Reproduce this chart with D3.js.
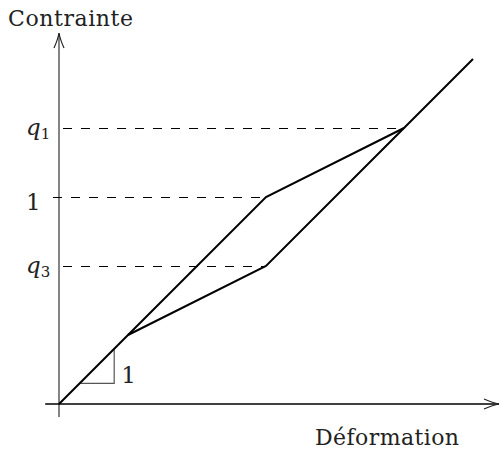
<!DOCTYPE html>
<html>
<head>
<meta charset="utf-8">
<script src="https://cdn.jsdelivr.net/npm/d3@7"></script>
<style>
  html, body { margin: 0; padding: 0; background: #fff; }
  svg { display: block; }
  text { font-family: "DejaVu Serif", serif; fill: #222; }
</style>
</head>
<body>
<svg id="chart" width="500" height="454"></svg>
<script>
// Stress–strain diagram: elastic loading, softened branch, unloading and reloading.
const loadingPath = [[0, 0], [1, 1], [3, 3], [5, 4]];
const reloadPath = [[1, 1], [3, 2], [5, 4], [6, 5]];
const levelValues = [4, 3, 2];
const levelEnds = [5, 3, 3];
const levelNames = [["q", "1"], ["1", null], ["q", "3"]];
const slopeTriangle = [[0.3, 0.3], [0.8, 0.3], [0.8, 0.8]];
const slopeLabel = "1";
const xTitle = "Déformation";
const yTitle = "Contrainte";

const svg = d3.select("#chart");
const x = d3.scaleLinear().domain([0, 6]).range([59, 473]);
const y = d3.scaleLinear().domain([0, 5]).range([404, 59]);
const line = d3.line().x(d => x(d[0])).y(d => y(d[1]));

// Axes with open arrow heads
svg.append("line")
  .attr("x1", x(0)).attr("x2", x(0))
  .attr("y1", y(-0.19)).attr("y2", 33)
  .attr("stroke", "#666").attr("stroke-width", 1.6);
svg.append("path")
  .attr("d", `M${x(0) - 5},${33 + 15} Q${x(0) - 1},${33 + 6} ${x(0)},33 Q${x(0) + 1},${33 + 6} ${x(0) + 5},${33 + 15}`)
  .attr("fill", "none").attr("stroke", "#222").attr("stroke-width", 1.2);

svg.append("line")
  .attr("x1", x(-0.2)).attr("x2", 499)
  .attr("y1", y(0)).attr("y2", y(0))
  .attr("stroke", "#000").attr("stroke-width", 1.4);
svg.append("path")
  .attr("d", `M${499 - 15},${y(0) - 5} Q${499 - 6},${y(0) - 1} 499,${y(0)} Q${499 - 6},${y(0) + 1} ${499 - 15},${y(0) + 5}`)
  .attr("fill", "none").attr("stroke", "#222").attr("stroke-width", 1.2);

// Dashed reference levels
svg.selectAll(".level")
  .data(levelValues)
  .join("line")
  .attr("class", "level")
  .attr("x1", (d, i) => levelNames[i][1] === null ? x(-0.09) : x(0.06))
  .attr("x2", (d, i) => x(levelEnds[i]))
  .attr("y1", d => y(d) + 0.5).attr("y2", d => y(d) + 0.5)
  .attr("stroke", "#000").attr("stroke-width", 1.5)
  .attr("shape-rendering", "crispEdges")
  .attr("stroke-dasharray", "9,9");

// Level labels
const labels = svg.selectAll(".lvl-label")
  .data(levelValues)
  .join("text")
  .attr("class", "lvl-label")
  .attr("x", 26)
  .attr("y", (d, i) => levelNames[i][1] === null ? y(d) + 13 : y(d) + 7)
  .attr("font-size", 23);
labels.each(function (d, i) {
  const t = d3.select(this);
  const [main, sub] = levelNames[i];
  if (sub === null) {
    t.append("tspan").text(main);
  } else {
    t.append("tspan").attr("font-style", "italic").text(main);
    t.append("tspan").attr("font-size", 15).attr("dy", 4).attr("dx", 0).text(sub);
  }
});

// Slope indicator
svg.append("path")
  .attr("d", line(slopeTriangle))
  .attr("fill", "none").attr("stroke", "#555").attr("stroke-width", 1.2);
svg.append("text")
  .attr("x", x(slopeTriangle[1][0]) + 7)
  .attr("y", y(slopeTriangle[1][1]))
  .attr("font-size", 23)
  .text(slopeLabel);

// Stress paths
svg.append("path")
  .attr("d", line(loadingPath))
  .attr("fill", "none").attr("stroke", "#000").attr("stroke-width", 2)
  .attr("stroke-linejoin", "miter");
svg.append("path")
  .attr("d", line(reloadPath))
  .attr("fill", "none").attr("stroke", "#000").attr("stroke-width", 2)
  .attr("stroke-linejoin", "miter");

// Axis titles
svg.append("text")
  .attr("x", 8).attr("y", 26)
  .attr("font-size", 22)
  .attr("textLength", 125).attr("lengthAdjust", "spacing")
  .text(yTitle);
svg.append("text")
  .attr("x", 315).attr("y", 445)
  .attr("font-size", 22)
  .attr("textLength", 144).attr("lengthAdjust", "spacing")
  .text(xTitle);
</script>
</body>
</html>
